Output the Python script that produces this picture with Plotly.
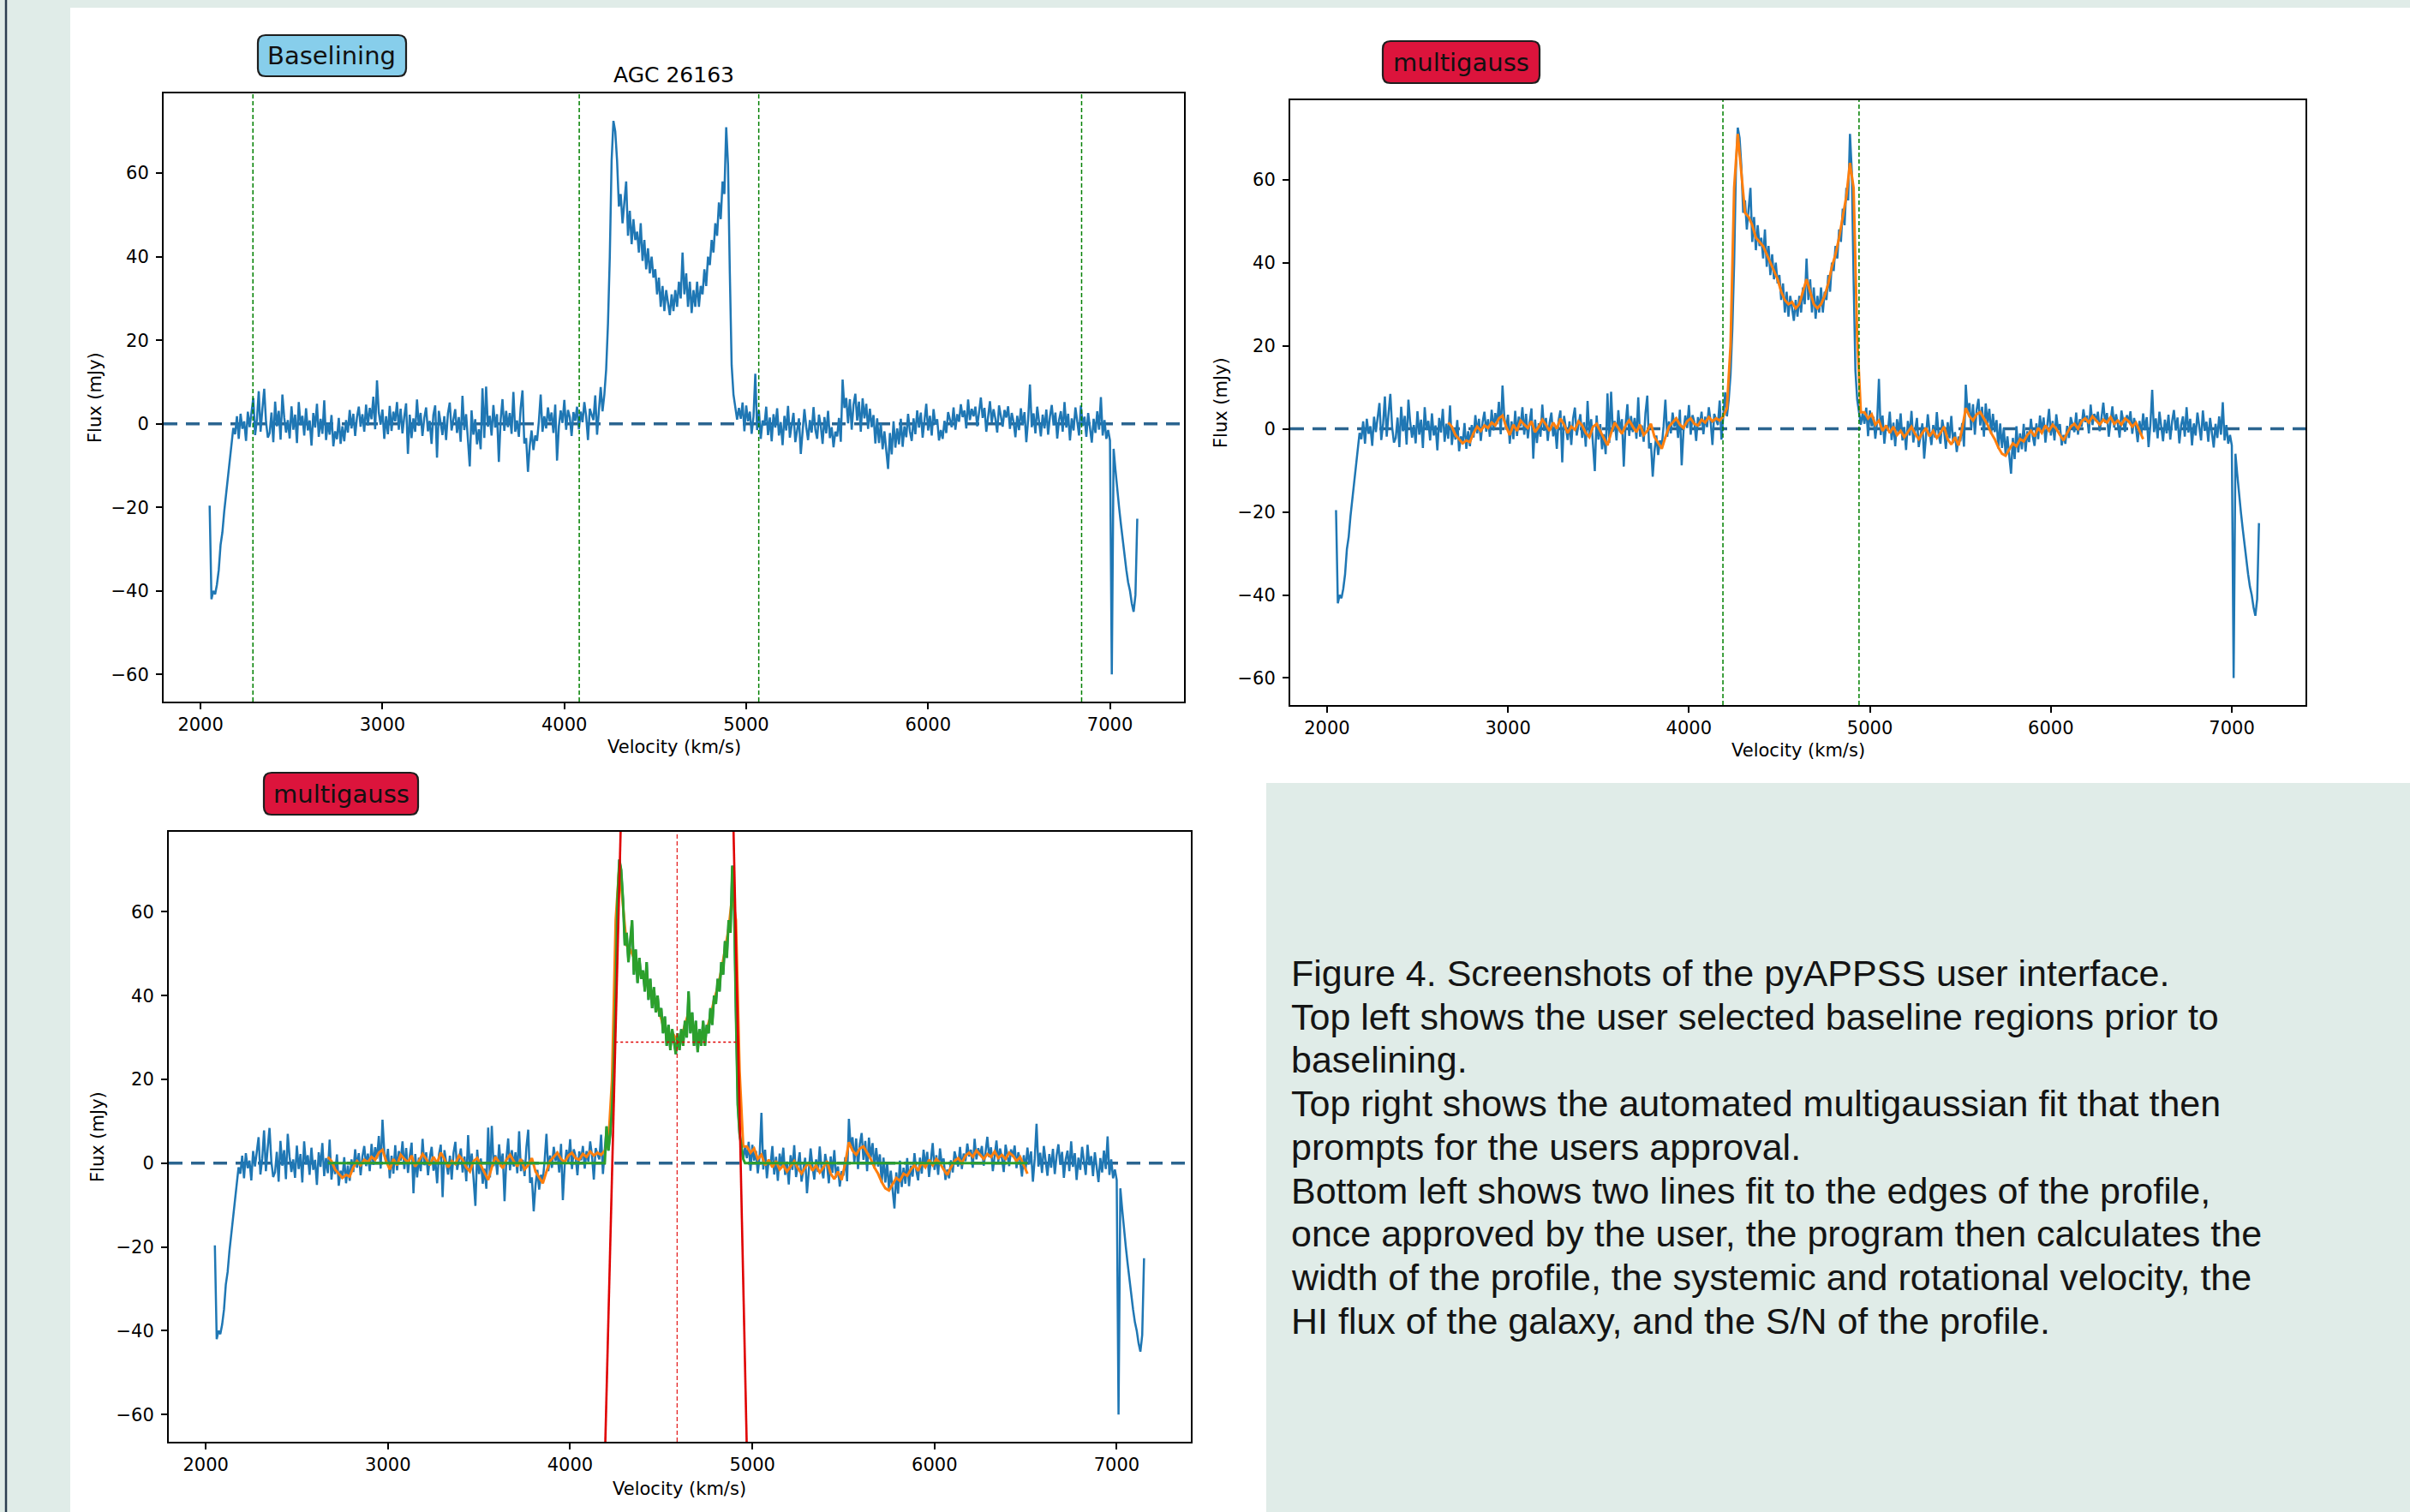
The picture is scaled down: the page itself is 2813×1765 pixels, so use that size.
import numpy as np
import plotly.graph_objects as go

W, H = 2813, 1765

# ---------------------------------------------------------------- data ----
CHAN = 10  # km/s, spectrum channel spacing

# low-velocity bandpass edge (2050 ... 2180)
v0_edge_low = 2050
flux_edge_low = [-19.6, -42.0, -40.0, -40.8, -38.5, -35.0, -29.0, -26.0, -21.0,
                 -17.0, -12.0, -8.0, -4.5, -1.0]

# baseline below the galaxy (2190 ... 4200)
v0_base_low = 2190
flux_base_low = [
    -2.5, 1.8, -3.6, 2.4, -1.2, 0.6, -4.1, 2.9, -0.8, 3.4,
    6.2, -2.7, 1.1, 7.8, -1.9, 3.6, 8.4, 0.4, -3.3, -2.2,
    2.7, -4.4, 5.3, -0.6, 3.1, -3.8, 7.0, 1.5, -2.1, 0.9,
    -3.5, 4.2, -1.4, 2.2, -4.6, 5.2, -0.3, 1.9, -2.8, 3.7,
    -1.6, 0.8, -5.2, 2.6, -0.9, 4.8, -3.1, 1.2, -2.4, 5.6,
    -3.9, 0.3, -2.6, 2.1, -5.4, -1.8, -3.7, 1.4, -4.8, -0.6,
    -4.2, 0.9, -2.1, 3.3, -1.1, 2.4, -2.9, 1.6, 4.1, -0.7,
    2.3, -1.9, 4.6, -0.4, 3.8, 1.1, 6.5, -1.3, 10.4, 2.7,
    -0.2, 3.4, -3.6, 1.8, -2.5, 4.3, -1.7, 2.9, 0.6, 5.2,
    -1.4, 3.6, -2.3, 1.7, 4.9, -7.2, 2.2, -3.4, 1.3, -1.9,
    5.8, -0.5, 2.6, -2.9, 1.4, 3.9, -1.8, 0.7, -4.8, 2.1,
    4.4, -8.1, 3.1, 0.2, -2.7, 1.8, -3.9, 2.5, 5.1, -1.6,
    0.9, 3.5, -2.2, 1.6, -4.3, 6.7, -1.5, 2.3, -3.8, -10.2,
    3.2, -2.6, 1.1, -4.9, -1.3, -6.1, 8.5, -3.4, 8.9, -0.7,
    1.9, -2.8, 4.5, -0.9, 2.3, -9.1, 1.0, 5.9, -1.7, 3.1,
    -0.8, 2.6, -2.4, 7.6, -1.9, 0.8, -3.1, 3.8, 8.0, -4.7,
    -3.4, -11.5, -5.2, -1.6, -6.3, -2.8, -4.1, 0.6, 7.0, -1.9,
    1.8, -1.1, 3.9, 0.5, 2.7, -2.2, 4.6, -8.8, -0.6, 3.2,
    0.2, 5.7, -1.4, 3.3, 1.6, -2.9, 2.8, 0.7, 4.1, -1.3,
    2.9, 0.4, 5.2, 1.8, -3.9, 3.6, 2.2, 0.9, 6.8, -2.6,
    3.1, 8.8]

# double-horned HI profile (4210 ... 4950)
v0_profile = 4210
flux_profile = [
    3.0, 7.0, 13.0, 24.0, 40.0, 63.0, 72.5, 70.0, 63.0,
    52.0, 55.0, 48.0, 53.0, 58.0, 45.0, 51.0, 43.0, 49.0, 44.0,
    46.0, 41.0, 48.0, 39.0, 44.0, 37.0, 42.0, 36.0, 40.0, 35.0,
    37.0, 31.0, 35.0, 28.0, 33.0, 27.0, 32.0, 29.0, 26.0, 31.0,
    27.0, 32.0, 28.0, 34.0, 30.0, 41.0, 31.0, 36.0, 28.0, 34.0,
    26.5, 32.0, 28.0, 34.0, 28.0, 33.0, 31.0, 37.0, 33.0, 40.0,
    38.0, 44.0, 41.0, 48.0, 45.0, 53.0, 49.0, 58.0, 55.0, 71.0,
    62.0, 36.0, 14.0, 7.0, 3.5, 1.0]

# baseline above the galaxy (4960 ... 6990)
v0_base_high = 4960
flux_base_high = [
    3.8, 1.2, 5.1, -1.8, 4.4, 0.6, 2.9, -2.4, 1.7, 12.0,
    -1.5, 3.2, -3.6, 0.8, -0.4, 4.1, -2.7, 1.5, -4.2, 2.3,
    -0.9, 3.7, -2.8, 0.4, -5.1, 1.9, -1.6, 4.3, -3.3, -0.2,
    2.6, -4.4, -1.1, 1.3, -7.2, -2.5, 3.5, -0.7, -3.9, 0.9,
    -2.1, 4.0, -1.4, -3.6, 2.2, -0.5, -4.8, 1.6, -2.3, 3.1,
    -3.4, -0.8, -5.6, -1.9, -3.0, 1.4, -4.3, 10.6, 3.8, 6.2,
    0.1, 5.9, -1.4, 4.6, 7.2, 0.8, 5.3, -1.9, 6.1, 1.3,
    4.8, -1.2, 3.6, -0.8, 2.1, -4.7, 1.3, -4.6, 0.2, -6.1,
    -1.8, -6.4, -10.8, -2.2, -7.3, 0.6, -5.7, -1.1, -4.9, 1.2,
    -5.5, -0.6, -3.2, 2.4, -1.8, -4.1, 1.3, -2.5, 3.2, -0.9,
    2.7, -3.3, 0.4, 4.8, -1.6, 1.9, -2.8, 3.5, -0.2, 1.1,
    -4.0, -1.5, -3.6, 0.7, -2.2, 2.8, 1.0, -0.8, 3.9, -1.4,
    2.3, 0.5, 4.7, 1.6, 3.2, -1.1, 5.8, 0.9, 3.6, 1.8,
    4.1, -0.6, 2.7, 6.3, 1.4, 3.8, -1.9, 2.2, 5.4, 0.3,
    3.5, 1.2, -2.1, 4.4, 2.0, -0.7, 3.3, 1.5, 4.2, -1.2,
    2.6, 0.4, -3.2, 1.9, -1.5, 3.7, -0.3, 2.8, -4.4, 1.0,
    9.4, -0.8, 2.5, -2.3, 4.1, 0.6, -3.0, 2.2, -1.1, 3.4,
    -2.6, 1.8, 4.5, -0.4, 2.7, -3.5, 0.9, 3.0, -1.9, 5.2,
    -0.9, 2.4, -4.0, 1.3, -1.6, 3.9, 0.2, -2.8, 4.4, -0.5,
    1.7, -3.1, 2.6, -0.8, -4.5, 1.2, -2.2, 3.0, -1.4, 6.4,
    -2.8, 0.9, -3.6, -1.5]

# high-velocity bandpass edge (7000 ... 7150)
v0_edge_high = 7000
flux_edge_high = [-4.0, -60.0, -6.0, -11.0, -16.0, -20.0, -24.0, -28.0, -32.0,
                  -35.0, -38.0, -40.0, -43.0, -45.0, -41.0, -22.7]

# multigauss fit (orange), 20 km/s sampling
FIT_STEP = 20
v0_fit_low = 2670
fit_low = [1.5, 0.5, -1.5, -2.5, -3.5, -2.8, -3.2, -1.0, 0.5, -0.5,
           0.8, 0.2, 1.5, 0.8, 2.5, 3.2, 0.5, -1.5, 1.0, -0.5,
           2.0, 1.0, 0.2, 1.8, -0.8, 0.5, 2.2, 1.0, -0.5, 1.5,
           0.0, 2.5, 1.0, -1.0, 0.5, -0.2, 1.8, 0.8, -1.0, -2.0,
           0.5, 1.2, -0.5, -2.5, -4.0, -1.0, 1.5, 0.2, -1.2, 0.8,
           2.0, 0.5, -0.8, 1.0, -1.5, -0.5, 1.2, -2.0, -3.5, -4.8,
           -2.0, 0.5, 1.5, 2.5, 1.0, 0.2, 1.8, 2.5, 1.2, 0.8,
           2.2, 1.5, 2.8, 1.8, 2.5, 2.0, 3.0]
v0_fit_profile = 4210
fit_profile = [5.0, 20.0, 58.0, 71.0, 62.0, 52.0, 51.0, 49.0, 46.0, 45.0,
               44.0, 42.0, 40.0, 38.0, 36.0, 33.0, 31.0, 30.0, 30.5, 29.0,
               30.0, 33.0, 36.0, 33.0, 30.0, 29.0, 30.0, 32.0, 35.0, 39.0,
               42.0, 46.0, 51.0, 56.0, 64.0, 58.0, 22.0, 4.0]
v0_fit_high = 4970
fit_high = [4.0, 2.5, 3.5, 1.0, 2.0, -0.5, 0.8, -1.0, 0.5, -1.5,
            -0.5, -2.0, -0.8, 0.5, -1.2, -2.5, -1.0, 0.2, -1.8, -0.5,
            -2.2, -1.0, 0.5, -2.5, -3.8, -2.0, -4.0, 0.0, 5.0, 3.0,
            2.0, 3.5, 4.0, 2.5, 1.0, -1.0, -2.5, -4.5, -6.0, -6.5,
            -5.0, -3.5, -4.2, -2.5, -3.0, -1.5, -0.5, -1.8, 0.2, -1.0,
            0.8, -0.5, 1.0, 0.0, -1.5, -2.8, -1.0, 0.5, 1.2, 0.0,
            1.8, 2.5, 1.5, 3.0, 2.0, 1.0, 2.2, 1.5, 2.8, 1.2,
            2.0, 1.0, 2.5, 1.8, 0.5, 1.5, -0.5, -2.5]

# user-selected baseline region boundaries (top left) and fit window (top right)
baseline_marks = [2288, 4082, 5069, 6844]
fit_window_marks = [4188, 4940]

# bottom-left: profile window for the width measurement and edge-fit lines
fit_range = [2670, 6510]
profile_window = [4200, 4950]
edge_left_v = [4185.3, 4286.2]
edge_left_f = [-80.0, 95.0]
edge_right_v = [4975.6, 4889.1]
edge_right_f = [-80.0, 95.0]
v_systemic = 4587
half_level = 28.9
half_span = [4248, 4922]

x_ticks = [2000, 3000, 4000, 5000, 6000, 7000]
y_ticks = [-60, -40, -20, 0, 20, 40, 60]
x_range = [1797, 7407]
y_range = [-66.5, 79.1]

caption_lines = [
    "Figure 4. Screenshots of the pyAPPSS user interface.",
    "Top left shows the user selected baseline regions prior to",
    "baselining.",
    "Top right shows the automated multigaussian fit that then",
    "prompts for the users approval.",
    "Bottom left shows two lines fit to the edges of the profile,",
    "once approved by the user, the program then calculates the",
    "width of the profile, the systemic and rotational velocity, the",
    "HI flux of the galaxy, and the S/N of the profile.",
]

# ------------------------------------------------------------ assemble ----
def seg(v0, vals, step):
    return v0 + step * np.arange(len(vals))

vel = np.concatenate([seg(v0_edge_low, flux_edge_low, CHAN),
                      seg(v0_base_low, flux_base_low, CHAN),
                      seg(v0_profile, flux_profile, CHAN),
                      seg(v0_base_high, flux_base_high, CHAN),
                      seg(v0_edge_high, flux_edge_high, CHAN)])
flux = np.concatenate([flux_edge_low, flux_base_low, flux_profile,
                       flux_base_high, flux_edge_high])

fit_v = np.concatenate([seg(v0_fit_low, fit_low, FIT_STEP),
                        seg(v0_fit_profile, fit_profile, FIT_STEP),
                        seg(v0_fit_high, fit_high, FIT_STEP)])
fit_f = np.concatenate([fit_low, fit_profile, fit_high])

inwin = (vel >= profile_window[0]) & (vel <= profile_window[1])
green_v = np.concatenate([[fit_range[0], profile_window[0] - CHAN], vel[inwin],
                          [profile_window[1] + CHAN, fit_range[1]]])
green_f = np.concatenate([[0, 0], flux[inwin], [0, 0]])

# ------------------------------------------------------------- layout -----
BLUE, ORANGE, GREEN, RED = "#1f77b4", "#ff7f0e", "#2ca02c", "#e00000"
BG = "#e0ece8"
FONT = "DejaVu Sans"

def px(x):
    return x / W

def py(y):
    return 1 - y / H

# plot areas in pixels (left, top, right, bottom)
panels = {
    "tl": (191, 109, 1382, 819),
    "tr": (1506, 117, 2691, 823),
    "bl": (197, 971, 1390, 1683),
}
axis_ids = {"tl": ("x", "y"), "tr": ("x2", "y2"), "bl": ("x3", "y3")}

fig = go.Figure()

def add_line(panel, x, y, color, width, dash="solid"):
    xa, ya = axis_ids[panel]
    fig.add_trace(go.Scatter(x=x, y=y, mode="lines", xaxis=xa, yaxis=ya,
                             line=dict(color=color, width=width, dash=dash),
                             showlegend=False, hoverinfo="skip"))

# top left: raw spectrum
add_line("tl", vel, flux, BLUE, 2.5)
# top right: spectrum + multigauss fit
add_line("tr", vel, flux, BLUE, 2.5)
add_line("tr", fit_v, fit_f, ORANGE, 3)
# bottom left: spectrum, fit, measured profile, edge fits
add_line("bl", vel, flux, BLUE, 2.5)
add_line("bl", fit_v, fit_f, ORANGE, 3)
add_line("bl", green_v, green_f, GREEN, 3)
add_line("bl", edge_left_v, edge_left_f, RED, 2.6)
add_line("bl", edge_right_v, edge_right_f, RED, 2.6)
add_line("bl", half_span, [half_level, half_level], RED, 1.3, "dot")

shapes = []
# page background panels
shapes.append(dict(type="rect", xref="paper", yref="paper", layer="below",
                   x0=px(82), x1=px(W), y0=py(914), y1=py(9),
                   fillcolor="white", line=dict(width=0)))
shapes.append(dict(type="rect", xref="paper", yref="paper", layer="below",
                   x0=px(82), x1=px(1478), y0=py(H), y1=py(914),
                   fillcolor="white", line=dict(width=0)))
shapes.append(dict(type="line", xref="paper", yref="paper", layer="above",
                   x0=px(7), x1=px(7), y0=0, y1=1,
                   line=dict(color="#2c3e50", width=2.5)))

for p in panels:
    xa, ya = axis_ids[p]
    shapes.append(dict(type="line", xref=xa + " domain", yref=ya, layer="below",
                       x0=0, x1=1, y0=0, y1=0,
                       line=dict(color="#2b6590", width=3.5, dash="16px,10px")))

for v in baseline_marks:
    shapes.append(dict(type="line", xref="x", yref="y domain", layer="above",
                       x0=v, x1=v, y0=0, y1=1,
                       line=dict(color="green", width=1.5, dash="5px,3px")))
for v in fit_window_marks:
    shapes.append(dict(type="line", xref="x2", yref="y2 domain", layer="above",
                       x0=v, x1=v, y0=0, y1=1,
                       line=dict(color="green", width=1.5, dash="5px,3px")))
shapes.append(dict(type="line", xref="x3", yref="y3 domain", layer="above",
                   x0=v_systemic, x1=v_systemic, y0=0, y1=1,
                   line=dict(color=RED, width=1.1, dash="5px,3px")))


def rrect(x0, y0, x1, y1, r):
    return (f"M {px(x0 + r)},{py(y0)} L {px(x1 - r)},{py(y0)} "
            f"Q {px(x1)},{py(y0)} {px(x1)},{py(y0 + r)} "
            f"L {px(x1)},{py(y1 - r)} Q {px(x1)},{py(y1)} {px(x1 - r)},{py(y1)} "
            f"L {px(x0 + r)},{py(y1)} Q {px(x0)},{py(y1)} {px(x0)},{py(y1 - r)} "
            f"L {px(x0)},{py(y0 + r)} Q {px(x0)},{py(y0)} {px(x0 + r)},{py(y0)} Z")

badges = [
    ("Baselining", (301, 41, 474, 89), "#87ceeb"),
    ("multigauss", (1614, 48, 1797, 97), "#dc143c"),
    ("multigauss", (308, 902, 488, 951), "#dc143c"),
]
annotations = []
for text, (x0, y0, x1, y1), col in badges:
    shapes.append(dict(type="path", xref="paper", yref="paper", layer="above",
                       path=rrect(x0, y0, x1, y1, 9), fillcolor=col,
                       line=dict(color="#1e1e1e", width=2.2)))
    annotations.append(dict(x=px((x0 + x1) / 2), y=py((y0 + y1) / 2), xref="paper",
                            yref="paper", text=text, showarrow=False,
                            xanchor="center", yanchor="middle",
                            font=dict(family=FONT, size=29, color="#111111")))

annotations.append(dict(x=px(786.5), y=py(87), xref="paper", yref="paper",
                        text="AGC 26163", showarrow=False, xanchor="center",
                        yanchor="middle", font=dict(family=FONT, size=25, color="black")))

ylab_pos = {"tl": (111, 464), "tr": (1425, 470), "bl": (114, 1327)}
xlab_pos = {"tl": (786.5, 872), "tr": (2098.5, 876), "bl": (793.5, 1738)}
for p in panels:
    x, y = ylab_pos[p]
    annotations.append(dict(x=px(x), y=py(y), xref="paper", yref="paper",
                            text="Flux (mJy)", textangle=-90, showarrow=False,
                            xanchor="center", yanchor="middle",
                            font=dict(family=FONT, size=21, color="black")))
    x, y = xlab_pos[p]
    annotations.append(dict(x=px(x), y=py(y), xref="paper", yref="paper",
                            text="Velocity (km/s)", showarrow=False,
                            xanchor="center", yanchor="middle",
                            font=dict(family=FONT, size=21, color="black")))

for i, line in enumerate(caption_lines):
    annotations.append(dict(x=px(1505), y=py(1136 + i * 50.7), xref="paper",
                            yref="paper", text=line, showarrow=False,
                            xanchor="left", yanchor="middle",
                            font=dict(family="Liberation Sans, Arial", size=43,
                                      color="#141414")))

tick_font = dict(family=FONT, size=21, color="black")
axis_common = dict(showline=True, linecolor="black", linewidth=2, mirror=True,
                   ticks="outside", ticklen=7, tickwidth=1.6, tickcolor="black",
                   showgrid=False, zeroline=False, tickfont=tick_font,
                   fixedrange=True)

layout_axes = {}
for k, p in enumerate(panels):
    l, t, r, b = panels[p]
    sx = "" if k == 0 else str(k + 1)
    xa, ya = axis_ids[p]
    layout_axes["xaxis" + sx] = dict(axis_common, domain=[px(l), px(r)], anchor=ya,
                                     range=x_range, tickvals=x_ticks,
                                     ticktext=[str(v) for v in x_ticks])
    layout_axes["yaxis" + sx] = dict(axis_common, domain=[py(b), py(t)], anchor=xa,
                                     range=y_range, tickvals=y_ticks,
                                     ticktext=[str(v).replace("-", "\u2212") for v in y_ticks],
                                     ticklabelstandoff=4)

fig.update_layout(width=W, height=H, margin=dict(l=0, r=0, t=0, b=0),
                  paper_bgcolor=BG, plot_bgcolor="white", showlegend=False,
                  shapes=shapes, annotations=annotations, **layout_axes)

fig.write_html("out.html", config={"displayModeBar": False},
               post_script="document.body.style.margin='0px';"
                           "document.body.style.padding='0px';"
                           "document.body.style.background='" + BG + "';")
